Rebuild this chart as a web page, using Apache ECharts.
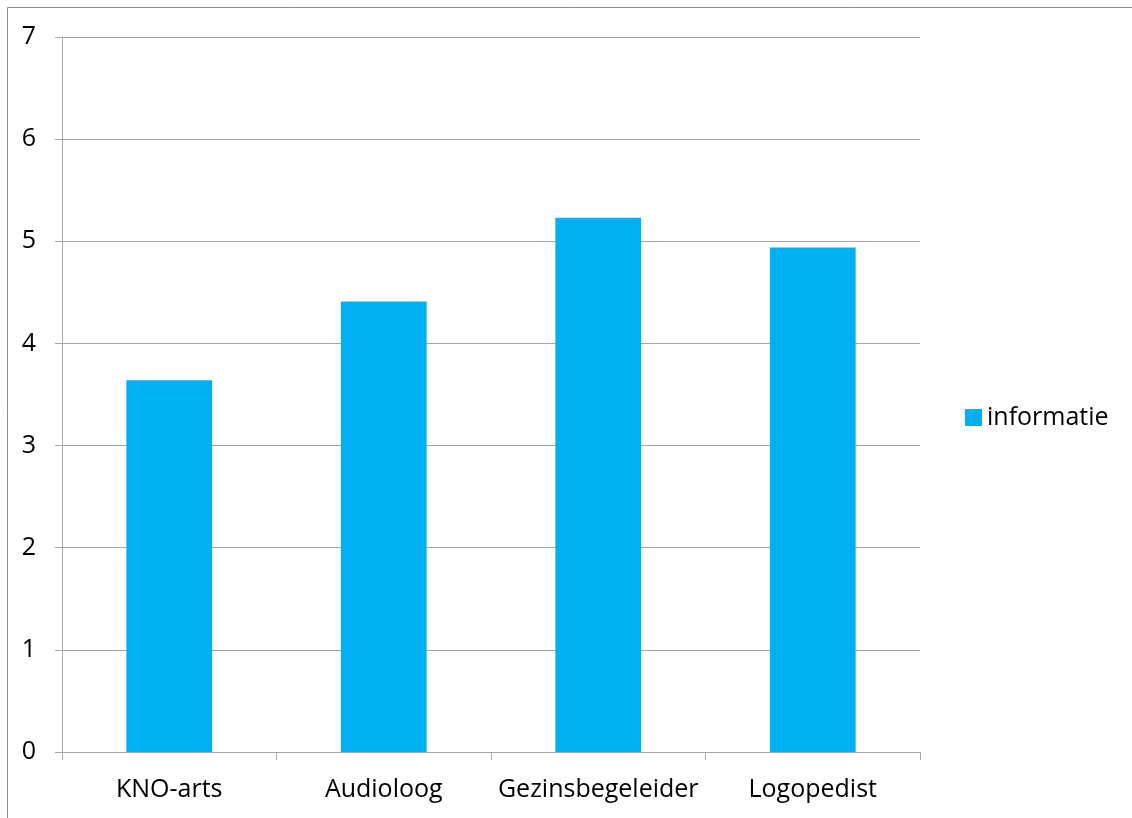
<!DOCTYPE html>
<html>
<head>
<meta charset="utf-8">
<script src="https://cdn.jsdelivr.net/npm/echarts@6/dist/echarts.min.js"></script>
<style>
  html, body { margin: 0; padding: 0; background: #fff; }
  #chart { width: 1132px; height: 818px; }
</style>
</head>
<body>
<div id="chart"></div>
<script>
const categories = ['KNO-arts', 'Audioloog', 'Gezinsbegeleider', 'Logopedist'];
const informatie = [3.64, 4.41, 5.23, 4.94];
const seriesName = 'informatie';

const chart = echarts.init(document.getElementById('chart'), null, { renderer: 'canvas' });
const font = '"Open Sans", "Noto Sans", sans-serif';

chart.setOption({
  animation: false,
  backgroundColor: '#ffffff',
  textStyle: { fontFamily: font },
  graphic: [{
    type: 'rect',
    shape: { x: 7.5, y: 7.5, width: 2000, height: 2000 },
    style: { fill: 'none', stroke: '#8c8c8c', lineWidth: 1 },
    silent: true
  }],
  legend: {
    data: [seriesName],
    orient: 'vertical',
    left: 960,
    top: 400,
    itemWidth: 17,
    itemHeight: 17,
    itemGap: 6,
    textStyle: { fontSize: 25, color: '#000', fontFamily: font, padding: [0, 0, 0, 0] },
    icon: 'rect'
  },
  grid: { left: 62, right: 212, top: 37, bottom: 66, containLabel: false },
  xAxis: {
    type: 'category',
    data: categories,
    axisLine: { lineStyle: { color: '#a6a6a6', width: 1 } },
    axisTick: { show: true, length: 8, alignWithLabel: false, lineStyle: { color: '#a6a6a6' } },
    axisLabel: { color: '#000', fontSize: 25, margin: 25, interval: 0, fontFamily: font }
  },
  yAxis: {
    type: 'value',
    min: 0,
    max: 7,
    interval: 1,
    axisLine: { show: true, lineStyle: { color: '#a6a6a6', width: 1 } },
    axisTick: { show: true, length: 7, lineStyle: { color: '#a6a6a6' } },
    axisLabel: { color: '#000', fontSize: 25, margin: 26, fontFamily: font },
    splitLine: { show: true, lineStyle: { color: '#a6a6a6', width: 1 } }
  },
  series: [{
    name: seriesName,
    type: 'bar',
    data: informatie,
    barWidth: '40%',
    itemStyle: { color: '#00b0f0' }
  }]
});
</script>
</body>
</html>
